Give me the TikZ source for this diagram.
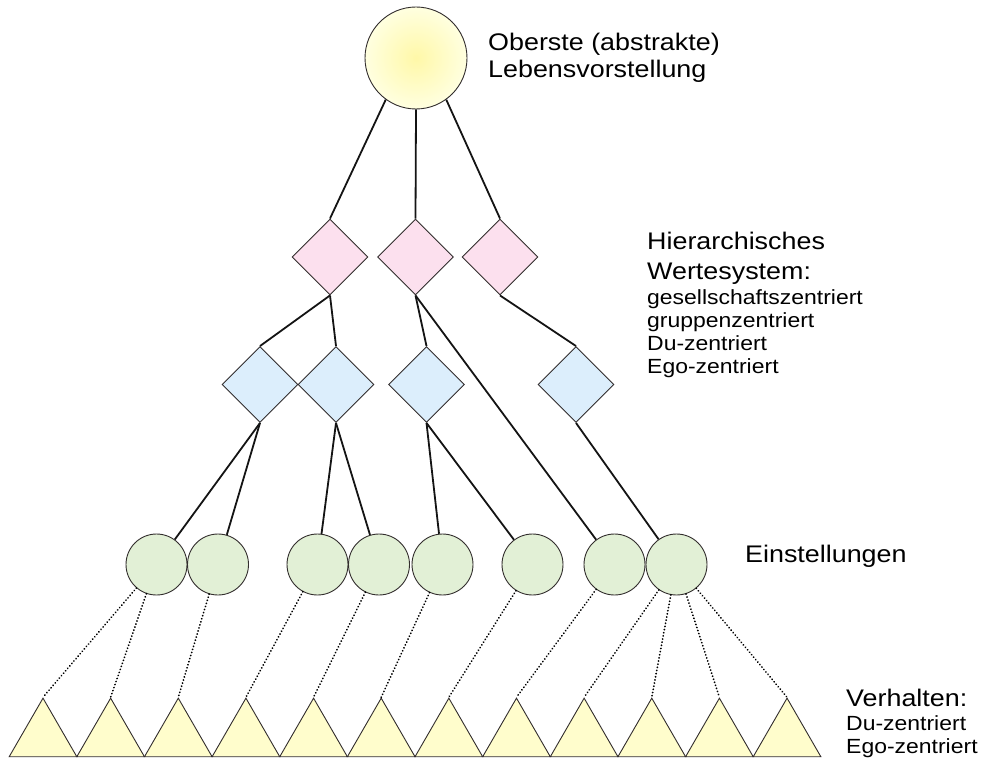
\documentclass[tikz,border=0pt]{standalone}
\usepackage{fontspec}
\setmainfont{Liberation Sans}
\newfontfamily\lblfont[FakeStretch=1.12]{Liberation Sans}
\usetikzlibrary{shapes.geometric}
\definecolor{pinkf}{RGB}{252,224,238}
\definecolor{bluef}{RGB}{220,238,252}
\definecolor{greenf}{RGB}{226,240,214}
\definecolor{trif}{RGB}{255,253,204}
\definecolor{topin}{RGB}{255,248,168}
\definecolor{topout}{RGB}{255,255,224}
\definecolor{edge}{RGB}{50,45,45}
\begin{document}
\begin{tikzpicture}[x=1pt,y=-1pt,
  shapeedge/.style={draw=edge,line width=0.9pt},
  topcirc/.style={shapeedge,circle,minimum size=102pt,inner sep=0pt,inner color=topin,outer color=topout},
  pinkdia/.style={shapeedge,diamond,fill=pinkf,minimum size=76pt,inner sep=0pt,aspect=1},
  bluedia/.style={shapeedge,diamond,fill=bluef,minimum size=76pt,inner sep=0pt,aspect=1},
  attcirc/.style={shapeedge,circle,fill=greenf,minimum size=61pt,inner sep=0pt},
  behtri/.style={shapeedge,regular polygon,regular polygon sides=3,fill=trif,minimum size=78.1pt,inner sep=0pt},
  solidlink/.style={draw=black!92,line width=1.8pt},
  dotlink/.style={draw=black,line width=1.9pt,line cap=round,dash pattern=on 0.1pt off 3.1pt},
  biglbl/.style={anchor=base west,inner sep=0pt,font=\lblfont\fontsize{24pt}{26pt}\selectfont},
  smalllbl/.style={anchor=base west,inner sep=0pt,font=\lblfont\fontsize{20.5pt}{23pt}\selectfont}]
\useasboundingbox (0,0) rectangle (992,767);

% top
\node[topcirc] (top) at (416,58) {};
% pink diamonds
\node[pinkdia] (p1) at (330,257) {};
\node[pinkdia] (p2) at (415.5,257) {};
\node[pinkdia] (p3) at (500,257) {};
% blue diamonds
\node[bluedia] (b1) at (260,384.5) {};
\node[bluedia] (b2) at (336,384.5) {};
\node[bluedia] (b3) at (426.5,384.5) {};
\node[bluedia] (b4) at (576,384.5) {};
% attitude circles
\node[attcirc] (c1) at (156.5,564.5) {};
\node[attcirc] (c2) at (218,564.5) {};
\node[attcirc] (c3) at (317.5,564.5) {};
\node[attcirc] (c4) at (379,564.5) {};
\node[attcirc] (c5) at (442.5,564.5) {};
\node[attcirc] (c6) at (532.5,564.5) {};
\node[attcirc] (c7) at (614.5,564.5) {};
\node[attcirc] (c8) at (676.5,564.5) {};
% triangles
\foreach \i in {1,...,12}{
  \node[behtri] (t\i) at ({43+67.64*(\i-1)},737.2) {};
}

% solid links
\draw[solidlink] (top.234) -- (p1.north);
\draw[solidlink] (top.south) -- (p2.north);
\draw[solidlink] (top.306) -- (p3.north);
\draw[solidlink] (p1.south) -- (b1.north);
\draw[solidlink] (p1.south) -- (b2.north);
\draw[solidlink] (p2.south) -- (b3.north);
\draw[solidlink] (p2.south) -- (c7);
\draw[solidlink] (p3.south) -- (b4.north);
\draw[solidlink] (b1.south) -- (c1);
\draw[solidlink] (b1.south) -- (c2);
\draw[solidlink] (b2.south) -- (c3);
\draw[solidlink] (b2.south) -- (c4);
\draw[solidlink] (b3.south) -- (c5);
\draw[solidlink] (b3.south) -- (c6);
\draw[solidlink] (b4.south) -- (c8);

% dotted links
\draw[dotlink] (c1) -- (t1.corner 1);
\draw[dotlink] (c1) -- (t2.corner 1);
\draw[dotlink] (c2) -- (t3.corner 1);
\draw[dotlink] (c3) -- (t4.corner 1);
\draw[dotlink] (c4) -- (t5.corner 1);
\draw[dotlink] (c5) -- (t6.corner 1);
\draw[dotlink] (c6) -- (t7.corner 1);
\draw[dotlink] (c7) -- (t8.corner 1);
\draw[dotlink] (c8) -- (t9.corner 1);
\draw[dotlink] (c8) -- (t10.corner 1);
\draw[dotlink] (c8) -- (t11.corner 1);
\draw[dotlink] (c8) -- (t12.corner 1);

% labels
\node[biglbl] (l1) at (488,51) {Oberste (abstrakte)};
\node[biglbl] (l2) at (488,78) {Lebensvorstellung};
\node[biglbl] (l3) at (647,250) {Hierarchisches};
\node[biglbl] (l4) at (647,279) {Wertesystem:};
\node[smalllbl] (l5) at (647,304) {gesellschaftszentriert};
\node[smalllbl] (l6) at (647,327) {gruppenzentriert};
\node[smalllbl] (l7) at (647,350) {Du-zentriert};
\node[smalllbl] (l8) at (647,373) {Ego-zentriert};
\node[biglbl] (l9) at (745,562) {Einstellungen};
\node[biglbl] (l10) at (846,706) {Verhalten:};
\node[smalllbl] (l11) at (846,730) {Du-zentriert};
\node[smalllbl] (l12) at (846,753) {Ego-zentriert};
\end{tikzpicture}
\end{document}
